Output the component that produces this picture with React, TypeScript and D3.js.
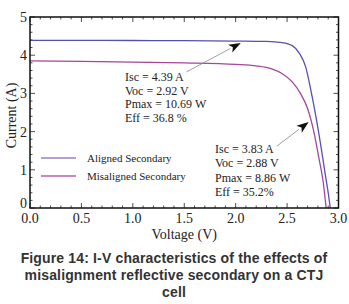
import React from "react";
import * as d3 from "d3";

const alignedV = [0, 0.5, 1.0, 1.5, 2.0, 2.3, 2.45, 2.55, 2.62, 2.68, 2.73, 2.78, 2.83, 2.87, 2.9, 2.92];
const alignedI = [4.39, 4.39, 4.385, 4.38, 4.37, 4.36, 4.33, 4.25, 4.05, 3.7, 3.1, 2.4, 1.6, 0.9, 0.4, 0];
const misV = [0, 0.5, 1.0, 1.5, 2.0, 2.2, 2.35, 2.45, 2.55, 2.63, 2.7, 2.76, 2.81, 2.85, 2.88];
const misI = [3.85, 3.84, 3.82, 3.8, 3.76, 3.72, 3.64, 3.52, 3.3, 3.0, 2.6, 2.0, 1.3, 0.7, 0];

const xTicks = [0, 0.5, 1.0, 1.5, 2.0, 2.5, 3.0];
const yTicks = [0, 1, 2, 3, 4, 5];
const seriesNames = ["Aligned Secondary", "Misaligned Secondary"];
const note1 = ["Isc = 4.39 A", "Voc = 2.92 V", "Pmax = 10.69 W", "Eff = 36.8 %"];
const note2 = ["Isc = 3.83 A", "Voc = 2.88 V", "Pmax = 8.86 W", "Eff = 35.2%"];
const caption = [
  "Figure 14: I-V characteristics of the effects of",
  "misalignment reflective secondary on a CTJ",
  "cell",
];

export default function App() {
  const W = 349, H = 304;
  const x = d3.scaleLinear().domain([0, 3]).range([30, 338.5]);
  const y = d3.scaleLinear().domain([0, 5]).range([208, 17]);
  const line = d3
    .line<[number, number]>()
    .x((d) => x(d[0]))
    .y((d) => y(d[1]))
    .curve(d3.curveMonotoneX);
  const aPts = alignedV.map((v, i) => [v, alignedI[i]] as [number, number]);
  const mPts = misV.map((v, i) => [v, misI[i]] as [number, number]);
  const cA = "#5850b0";
  const cM = "#a2479c";
  const serif = "'Liberation Serif', 'Times New Roman', serif";

  const xMinor = d3.range(0, 3.0001, 0.1);
  const yMinor = d3.range(0, 5.0001, 0.2);
  const isMajor = (v: number, step: number) => Math.abs(v / step - Math.round(v / step)) < 1e-6;

  const x0 = x(0), x1 = x(3), y0 = y(0), y1 = y(5);

  const arrow = (tx: number, ty: number, hx: number, hy: number, key: string) => {
    const X1 = x(tx), Y1 = y(ty), X2 = x(hx), Y2 = y(hy);
    const ang = Math.atan2(Y2 - Y1, X2 - X1);
    const L = 12, Wd = 4.5;
    const bx = X2 - L * Math.cos(ang), by = Y2 - L * Math.sin(ang);
    const px = -Math.sin(ang), py = Math.cos(ang);
    return (
      <g key={key}>
        <line x1={X1} y1={Y1} x2={bx} y2={by} stroke="#888" strokeWidth={0.8} />
        <path
          d={`M${X2},${Y2} L${bx + px * Wd},${by + py * Wd} L${bx + 3 * Math.cos(ang)},${by + 3 * Math.sin(ang)} L${bx - px * Wd},${by - py * Wd} Z`}
          fill="#111"
        />
      </g>
    );
  };

  return (
    <svg
      width={W}
      height={H}
      style={{ position: "fixed", left: 0, top: 0, background: "#fff" }}
    >
      <rect x={0} y={0} width={W} height={H} fill="#fff" />
      {/* ticks */}
      {xMinor.map((v, i) => {
        const len = isMajor(v, 0.5) ? 5 : 2.5;
        return (
          <g key={"xt" + i} stroke="#222" strokeWidth={0.8}>
            <line x1={x(v)} x2={x(v)} y1={y0} y2={y0 - len} />
            <line x1={x(v)} x2={x(v)} y1={y1} y2={y1 + len} />
          </g>
        );
      })}
      {yMinor.map((v, i) => {
        const len = isMajor(v, 1) ? 5 : 2.5;
        return (
          <g key={"yt" + i} stroke="#222" strokeWidth={0.8}>
            <line x1={x0} x2={x0 + len} y1={y(v)} y2={y(v)} />
            <line x1={x1} x2={x1 - len} y1={y(v)} y2={y(v)} />
          </g>
        );
      })}
      {/* curves */}
      <path d={line(mPts) || ""} fill="none" stroke={cM} strokeWidth={1.3} />
      <path d={line(aPts) || ""} fill="none" stroke={cA} strokeWidth={1.3} />
      {/* frame */}
      <rect x={x0} y={y1} width={x1 - x0} height={y0 - y1} fill="none" stroke="#111" strokeWidth={1.5} />
      {/* tick labels */}
      {xTicks.map((v) => (
        <text key={"xl" + v} x={x(v)} y={y0 + 15} textAnchor="middle" fontFamily={serif} fontSize={14} fill="#222">
          {v.toFixed(1)}
        </text>
      ))}
      {yTicks.map((v) => (
        <text key={"yl" + v} x={x0 - 3} y={y(v) + (v === 0 ? 0 : 5)} textAnchor="end" fontFamily={serif} fontSize={14} fill="#222">
          {v}
        </text>
      ))}
      <text x={(x0 + x1) / 2} y={239} textAnchor="middle" fontFamily={serif} fontSize={14} fill="#222">
        Voltage (V)
      </text>
      <text
        transform={`translate(16,${(y0 + y1) / 2 + 3}) rotate(-90)`}
        textAnchor="middle"
        fontFamily={serif}
        fontSize={14}
        fill="#222"
      >
        Current (A)
      </text>
      {/* legend */}
      {seriesNames.map((n, i) => (
        <g key={n}>
          <line x1={41} x2={76} y1={158 + i * 18} y2={158 + i * 18} stroke={i === 0 ? "#9880c4" : "#b462ac"} strokeWidth={1.5} />
          <text x={87} y={162 + i * 18} fontFamily={serif} fontSize={11} fill="#222">
            {n}
          </text>
        </g>
      ))}
      {/* annotations */}
      {note1.map((t, i) => (
        <text key={"n1" + i} x={125} y={81 + i * 13.6} fontFamily={serif} fontSize={12} fill="#222">
          {t}
        </text>
      ))}
      {note2.map((t, i) => (
        <text key={"n2" + i} x={215} y={153 + i * 14.3} fontFamily={serif} fontSize={12} fill="#222">
          {t}
        </text>
      ))}
      {arrow(1.52, 3.56, 2.05, 4.32, "a1")}
      {arrow(2.4, 1.62, 2.71, 2.25, "a2")}
      {/* caption */}
      {caption.map((t, i) => (
        <text
          key={"c" + i}
          x={174}
          y={263 + i * 17}
          textAnchor="middle"
          fontFamily="'Liberation Sans', Arial, sans-serif"
          fontWeight="bold"
          fontSize={14}
          letterSpacing={0.15}
          fill="#333"
        >
          {t}
        </text>
      ))}
    </svg>
  );
}
